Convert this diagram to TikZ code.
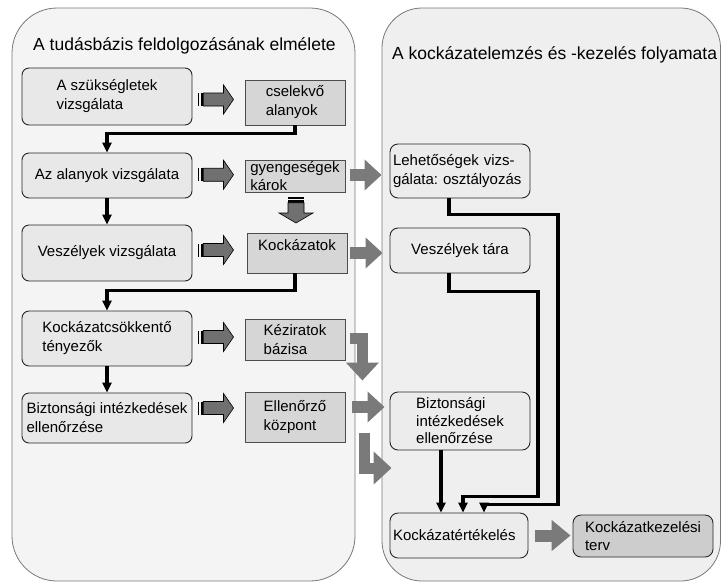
\documentclass[tikz,border=0pt]{standalone}
\usepackage{fontspec}
\setmainfont{Liberation Sans}
\usetikzlibrary{arrows.meta,calc}
\frenchspacing

\definecolor{leftpanel}{RGB}{244,244,244}
\definecolor{rightpanel}{RGB}{239,239,239}
\definecolor{panelborder}{RGB}{120,120,120}
\definecolor{stepfill}{RGB}{232,232,232}
\definecolor{itemfill}{RGB}{214,214,214}
\definecolor{procfill}{RGB}{236,236,236}
\definecolor{planfill}{RGB}{205,205,205}
\definecolor{blockgray}{RGB}{122,122,122}
\definecolor{stripegray}{RGB}{112,112,112}

\newcommand\boxfont{\fontsize{15}{19}\selectfont}
\newcommand\titlefont{\fontsize{17.5}{21}\selectfont}

\tikzset{
  panel/.style={draw=panelborder, line width=0.8pt},
  stepbox/.style={draw=black!85, fill=stepfill, rounded corners=7pt, line width=0.9pt,
    minimum width=170, align=left, font=\boxfont, inner sep=0pt},
  itembox/.style={draw=black!70, fill=itemfill, line width=0.8pt,
    minimum width=100, align=left, font=\boxfont, inner sep=0pt},
  procbox/.style={draw=black!85, fill=procfill, rounded corners=8pt, line width=0.9pt,
    minimum width=140, align=left, font=\boxfont, inner sep=0pt},
  flow/.style={line width=3.3pt, -{Triangle[length=10pt,width=9pt]}},
  blockarrow/.style={draw=blockgray, line width=12pt, -{Triangle[length=17pt,width=30pt]}},
  bentarrow/.style={draw=blockgray, line width=11pt, line join=miter,
    -{Triangle[length=18pt,width=32pt]}},
  % striped block arrow pointing right, centred on its origin
  hstripe/.pic={
    \fill[black] (-18,-6.5) rectangle (-16.3,6.5);
    \fill[black] (-15,-6.5) rectangle (-12.3,6.5);
    \filldraw[fill=stripegray, draw=black, line width=0.6pt]
      (-12.3,-6.5) -- (8,-6.5) -- (8,-14.5) -- (18,0) -- (8,14.5) -- (8,6.5) -- (-12.3,6.5) -- cycle;
  },
  % striped block arrow pointing down, centred on its origin
  vstripe/.pic={
    \fill[black] (-8,-13) rectangle (8,-11.3);
    \fill[black] (-8,-10) rectangle (8,-7.3);
    \filldraw[fill=stripegray, draw=black, line width=0.6pt]
      (-8,-7.3) -- (-8,3) -- (-17,3) -- (0,13) -- (17,3) -- (8,3) -- (8,-7.3) -- cycle;
  },
}

\begin{document}
\begin{tikzpicture}[x=1pt, y=-1pt]
\useasboundingbox (0,0) rectangle (722,582);
\fill[white] (0,0) rectangle (722,582);

% the two swimlanes
\draw[panel, fill=leftpanel, rounded corners=45pt] (12,8) rectangle (355,581);
\draw[panel, fill=rightpanel, rounded corners=40pt] (382,8) rectangle (720.5,581);
\node[anchor=base west, font=\titlefont, inner sep=0pt] (ltitle) at (33,50)
  {A tudásbázis feldolgozásának elmélete};
\node[anchor=base west, font=\titlefont, inner sep=0pt] (rtitle) at (392,59)
  {A kockázatelemzés és -kezelés folyamata};

% knowledge-base steps
\node[stepbox, minimum height=57] (s1) at (107,96.5) {A szükségletek\\vizsgálata};
\node[stepbox, minimum height=45] (s2) at (107,175.5) {Az alanyok vizsgálata};
\node[stepbox, minimum height=56] (s3) at (107,253) {Veszélyek vizsgálata};
\node[stepbox, minimum height=55] (s4) at (107,338.5) {Kockázatcsökkentő\\tényezők};
\node[stepbox, minimum height=50] (s5) at (107,418) {Biztonsági intézkedések\\ellenőrzése};

% results of each step
\node[itembox, minimum height=45] (i1) at (295,102.5) {cselekvő\\alanyok};
\node[itembox, minimum height=32, font=\fontsize{15}{18}\selectfont] (i2) at (295,176) {gyengeségek\\károk};
\node[itembox, minimum height=40, text depth=16pt] (i3) at (297,253) {Kockázatok};
\node[itembox, minimum height=41] (i4) at (295,339.5) {Kéziratok\\bázisa};
\node[itembox, minimum height=50] (i5) at (295,417) {Ellenőrző\\központ};

% risk process
\node[procbox, minimum height=54, text width=134, font=\fontsize{15}{19}\selectfont] (p1) at (460,171)
  {Lehetőségek vizs-\\gálata: osztályozás};
\node[procbox, minimum height=45] (p2) at (460,250.5) {Veszélyek tára};
\node[procbox, minimum height=58, font=\fontsize{15}{17.5}\selectfont] (p3) at (460,421)
  {Biztonsági\\intézkedések\\ellenőrzése};
\node[procbox, minimum width=138, minimum height=45, text width=132] (p4) at (459,535.5)
  {Kockázatértékelés};
\node[procbox, fill=planfill, minimum height=42, font=\fontsize{15}{18}\selectfont] (p5) at (643,536)
  {Kockázatkezelési\\terv};

% striped arrows from each step to its result
\pic at ($(s1.east)!0.5!(i1.west)+(-3,0)$) {hstripe};
\pic at ($(s2.east)!0.5!(i2.west)+(-3,-1)$) {hstripe};
\pic at ($(s3.east)!0.5!(i3.west)+(-4,-3)$) {hstripe};
\pic at ($(s4.east)!0.5!(i4.west)+(-3,-2)$) {hstripe};
\pic at ($(s5.east)!0.5!(i5.west)+(-3,-9.5)$) {hstripe};
\pic at ($(i2.south)!0.5!(i3.north)+(0,-2.5)$) {vstripe};

% black flow lines, left lane
\draw[flow] (i1.south) -- ++(0,8) -| (s2.north);
\draw[flow] (s2.south) -- (s3.north);
\draw[flow] (i3.south -| i1.south) -- ++(0,17) -| (s4.north);
\draw[flow] (s4.south) -- (s5.north);

% black flow lines, right lane
\draw[flow] ($(p1.south)+(-11,0)$) -- ++(0,16) -- ++(109,0)
  |- ($(p4.north)+(25,-8)$) -- ($(p4.north)+(25,0)$);
\draw[flow] ($(p2.south)+(-11,0)$) -- ++(0,18) -- ++(89,0)
  |- ($(p4.north)+(4,-16)$) -- ($(p4.north)+(4,0)$);
\draw[flow] ($(p3.south)+(-19,0)$) -- ($(p4.north)+(-18,0)$);

% grey block arrows between the lanes
\draw[blockarrow] ($(i2.east)+(5,-1)$) -- ($(p1.west |- i2.east)+(-8,-1)$);
\draw[blockarrow] ($(i3.east)+(3,0)$) -- ($(p2.west |- i3.east)+(-7,0)$);
\draw[blockarrow] ($(i5.east)+(7,-10)$) -- ($(p3.west |- i5.east)+(-5,-10)$);
\draw[blockarrow, -{Triangle[length=19pt,width=30pt]}] ($(p4.east)+(7,0)$) -- ($(p5.west |- p4.east)+(-2,0)$);
\draw[bentarrow] ($(i4.east)+(5,-1)$) -| ($(i4.east)+(17,41)$);
\coordinate (eL) at ($(i5.south east)+(19,-9)$);
\draw[bentarrow] (eL) |- ($(p3.west)+(2,47)$);
\end{tikzpicture}
\end{document}
